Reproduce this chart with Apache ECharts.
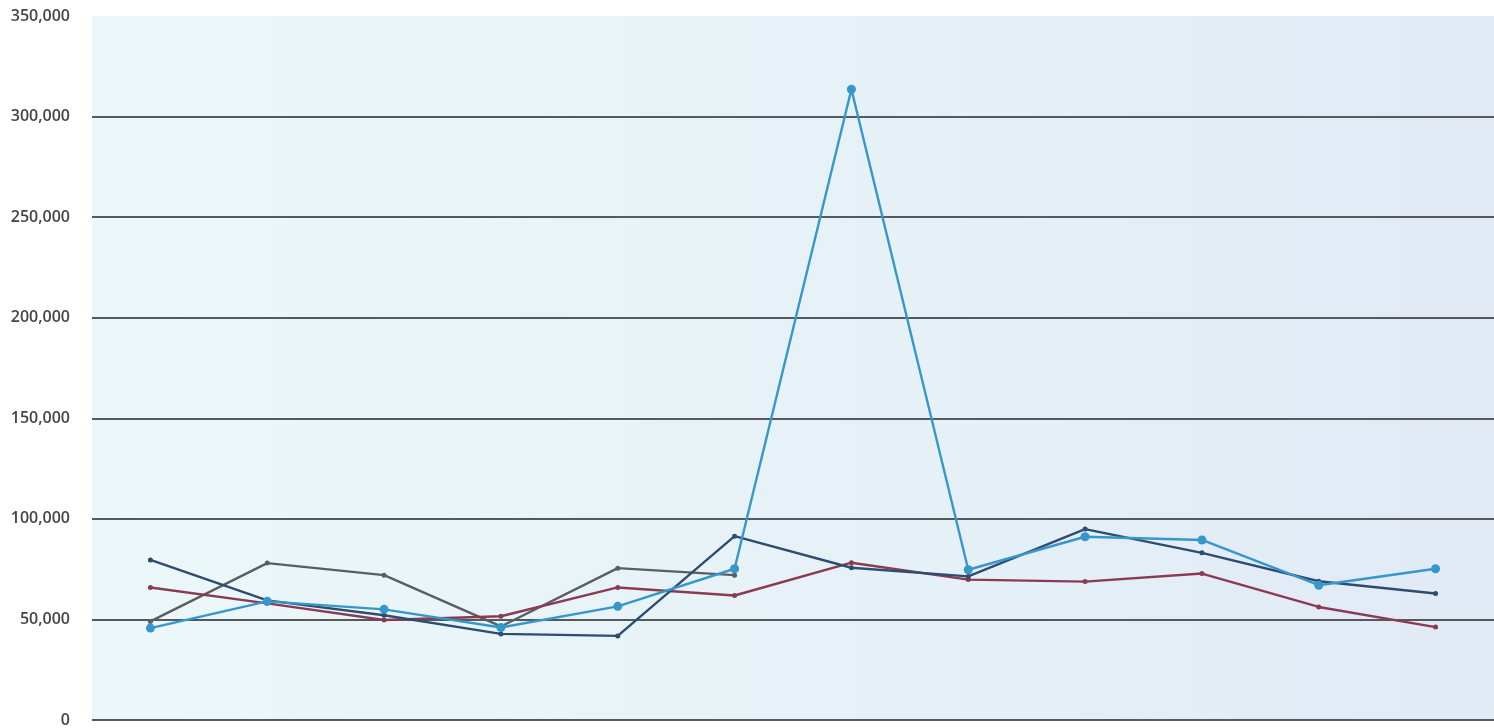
<!DOCTYPE html>
<html>
<head>
<meta charset="utf-8">
<style>
  html, body { margin: 0; padding: 0; background: #ffffff; overflow: hidden; }
  #chart { width: 1494px; height: 728px; }
</style>
<script src="https://cdn.jsdelivr.net/npm/echarts@6/dist/echarts.min.js"></script>
</head>
<body>
<div id="chart"></div>
<script>
// Twelve periods along the horizontal axis (unlabelled in the printed chart)
const categories = ['1', '2', '3', '4', '5', '6', '7', '8', '9', '10', '11', '12'];

// Series values
const seriesLightBlue = [45700, 59000, 55000, 46000, 56500, 75200, 313600, 74700, 91100, 89500, 67000, 75200];
const seriesNavy      = [79600, 59500, 52100, 42800, 41800, 91400, 75700, 71400, 94900, 83100, 69000, 62900];
const seriesMaroon    = [65900, 58000, 49700, 51600, 65900, 61900, 78200, 69800, 68800, 72800, 56200, 46200];
const seriesGray      = [49000, 78000, 72000, 46500, 75500, 72000, null, null, null, null, null, null];

// Value axis ticks
const yMin = 0;
const yMax = 350000;
const yStep = 50000;

const chart = echarts.init(document.getElementById('chart'), null, { renderer: 'canvas', width: 1494, height: 728 });

function lineSeries(name, data, color, symbolSize, z) {
  return {
    name: name,
    type: 'line',
    data: data,
    z: z,
    symbol: 'circle',
    symbolSize: symbolSize,
    connectNulls: false,
    lineStyle: { color: color, width: 2.4 },
    itemStyle: { color: color },
    emphasis: { disabled: true }
  };
}

chart.setOption({
  animation: false,
  backgroundColor: '#ffffff',
  grid: {
    left: 92,
    top: 16,
    width: 1405,
    height: 711,
    show: true,
    borderWidth: 0,
    backgroundColor: new echarts.graphic.LinearGradient(0, 0, 1, 0, [
      { offset: 0, color: '#ecf7f9' },
      { offset: 0.4, color: '#e8f3f8' },
      { offset: 1, color: '#e1eaf5' }
    ])
  },
  xAxis: {
    type: 'category',
    data: categories,
    boundaryGap: true,
    axisLine: { show: false },
    axisTick: { show: false },
    axisLabel: { show: false },
    splitLine: { show: false }
  },
  yAxis: {
    type: 'value',
    min: yMin,
    max: yMax,
    interval: yStep,
    axisLine: { show: false },
    axisTick: { show: false },
    axisLabel: {
      margin: 22,
      color: '#444444',
      fontFamily: 'Open Sans',
      fontSize: 16,
      fontWeight: 600,
      formatter: function (v) { return v.toLocaleString('en-US'); }
    },
    splitLine: {
      show: true,
      lineStyle: { color: '#545a5c', width: 2 },
      showMinLine: true,
      showMaxLine: false
    }
  },
  series: [
    lineSeries('Gray', seriesGray, '#5b5e60', 5, 2),
    lineSeries('Maroon', seriesMaroon, '#8a3b52', 5, 3),
    lineSeries('Navy', seriesNavy, '#2d4d70', 5, 4),
    lineSeries('Light blue', seriesLightBlue, '#3597cc', 9, 5)
  ]
});
</script>
</body>
</html>
